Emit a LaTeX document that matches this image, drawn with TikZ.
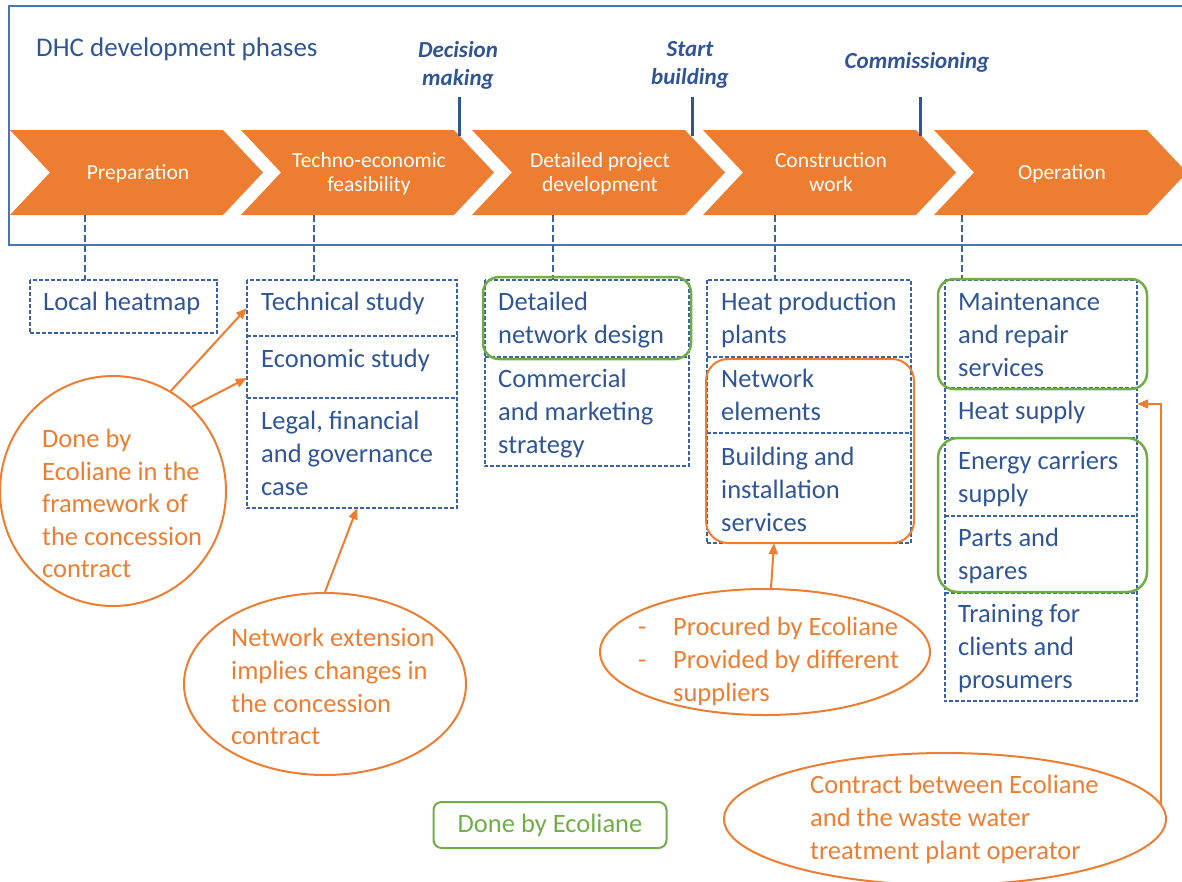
\documentclass[tikz,border=0pt]{standalone}
\usepackage{fontspec}
\setmainfont{Carlito}
\usetikzlibrary{shapes.geometric,arrows.meta,fit,calc}
\definecolor{dhcorange}{HTML}{ED7D31}
\definecolor{dhcblue}{HTML}{2F5597}
\definecolor{dashblue}{HTML}{3A62A8}
\definecolor{frameblue}{HTML}{4A76B0}
\definecolor{dhcgreen}{HTML}{70AD47}
\begin{document}
\begin{tikzpicture}[x=1pt,y=-1pt,
  txt/.style={anchor=north west, inner sep=0pt, align=left, text=dhcblue, yshift=-5pt,
    font=\fontsize{26.5}{33}\selectfont, execute at begin node=\strut},
  oneline/.style={yshift=5pt},
  otxt/.style={txt, text=dhcorange},
  ph/.style={inner sep=0pt, align=center, text=white, font=\fontsize{21.5}{24}\selectfont,
    execute at begin node=\strut, execute at end node=\strut},
  ms/.style={anchor=north, inner sep=0pt, align=center, text=dhcblue,
    font=\fontsize{23}{28}\selectfont\bfseries\itshape, execute at begin node=\strut},
  cellbox/.style={inner sep=0pt},
  dbox/.style={draw=dashblue, line width=1.5pt, dash pattern=on 4pt off 2pt},
  vcon/.style={draw=dashblue, line width=2pt, dash pattern=on 7pt off 3pt},
  tick/.style={draw=dhcblue, line width=3pt},
  gbox/.style={draw=dhcgreen, line width=2.5pt, rounded corners=16pt, inner sep=0pt},
  obox/.style={draw=dhcorange, line width=2pt, rounded corners=22pt, inner sep=0pt},
  oell/.style={ellipse, draw=dhcorange, line width=2pt, inner sep=0pt},
  oarrow/.style={draw=dhcorange, line width=2pt, -{Triangle[length=11pt,width=9pt]}},
  chev/.style={fill=dhcorange}
]
\useasboundingbox (0,0) rectangle (1182,881);

% frame
\draw[frameblue, line width=1.3pt] (1183,6) -- (9,6) -- (9,245) -- (1183,245);
\node[anchor=base west, inner sep=0pt, text=dhcblue, font=\fontsize{27}{33}\selectfont] (title) at (36,56) {DHC development phases};

% chevrons
\foreach \L in {10,241,472,703,934}
  \fill[chev] (\L,130) -- ++(213,0) -- ++(40,42.5) -- ++(-40,42.5) -- ++(-213,0) -- ++(40,-42.5) -- cycle;
\node[ph] (p1) at (138,175) {Preparation};
\node[ph] (p2) at (369,176) {Techno-economic\\feasibility};
\node[ph] (p3) at (600,176) {Detailed project\\development};
\node[ph] (p4) at (831,176) {Construction\\work};
\node[ph] (p5) at (1062,175) {Operation};

% milestones
\node[ms] (m1) at (458,41) {Decision\\making};
\node[ms] (m2) at (690,41) {Start\\building};
\node[ms] (m3) at (917,49) {Commissioning};
\coordinate (t1a) at (459,97); \coordinate (t1b) at (459,136);
\coordinate (t2a) at (692,97); \coordinate (t2b) at (692,136);
\coordinate (t3a) at (920,97); \coordinate (t3b) at (920,136);
\draw[tick] (t1a) -- (t1b);
\draw[tick] (t2a) -- (t2b);
\draw[tick] (t3a) -- (t3b);

% cells
\node[cellbox, fit={(30,280) (217,333)}] (heatmap) {};
\node[cellbox, fit={(247,280) (457,336)}] (tech) {};
\node[cellbox, fit={(247,336) (457,398)}] (econ) {};
\node[cellbox, fit={(247,398) (457,508)}] (legal) {};
\node[cellbox, fit={(485,280) (689,357)}] (dnd) {};
\node[cellbox, fit={(485,357) (689,466)}] (comm) {};
\node[cellbox, fit={(707,280) (911,357)}] (heatp) {};
\node[cellbox, fit={(707,357) (911,433)}] (netel) {};
\node[cellbox, fit={(707,433) (911,543)}] (build) {};
\node[cellbox, fit={(945,280) (1137,388)}] (maint) {};
\node[cellbox, fit={(945,388) (1137,438)}] (heat) {};
\node[cellbox, fit={(945,438) (1137,516)}] (energy) {};
\node[cellbox, fit={(945,516) (1137,593)}] (parts) {};
\node[cellbox, fit={(945,593) (1137,701)}] (training) {};

\draw[dbox] (heatmap.north west) rectangle (heatmap.south east);
\draw[dbox] (tech.north west) rectangle (legal.south east);
\draw[dbox] (econ.north west) -- (econ.north east);
\draw[dbox] (legal.north west) -- (legal.north east);
\draw[dbox] (dnd.north west) rectangle (comm.south east);
\draw[dbox] (comm.north west) -- (comm.north east);
\draw[dbox] (heatp.north west) rectangle (build.south east);
\draw[dbox] (netel.north west) -- (netel.north east);
\draw[dbox] (build.north west) -- (build.north east);
\draw[dbox] (maint.north west) rectangle (training.south east);
\draw[dbox] (heat.north west) -- (heat.north east);
\draw[dbox] (energy.north west) -- (energy.north east);
\draw[dbox] (parts.north west) -- (parts.north east);
\draw[dbox] (training.north west) -- (training.north east);

% vertical connectors
\coordinate (c1) at (85,215);
\coordinate (c2) at (314,215);
\coordinate (c3) at (553,215);
\coordinate (c4) at (775,215);
\coordinate (c5) at (962,215);
\draw[vcon] (c1) -- (c1 |- heatmap.north);
\draw[vcon] (c2) -- (c2 |- tech.north);
\draw[vcon] (c3) -- (c3 |- dnd.north);
\draw[vcon] (c4) -- (c4 |- heatp.north);
\draw[vcon] (c5) -- (c5 |- maint.north);

% cell texts
\node[txt, oneline] (theatmap) at (43,287) {Local heatmap};
\node[txt, oneline] (ttech) at (261,287) {Technical study};
\node[txt, oneline] (tecon) at (261,344) {Economic study};
\node[txt] (tlegal) at (261,406) {Legal, financial\\and governance\\case};
\node[txt] (tdnd) at (498,287) {Detailed\\network design};
\node[txt] (tcomm) at (498,364) {Commercial\\and marketing\\strategy};
\node[txt] (theatp) at (721,287) {Heat production\\plants};
\node[txt] (tnetel) at (721,364) {Network\\elements};
\node[txt] (tbuild) at (721,442) {Building and\\installation\\services};
\node[txt] (tmaint) at (958,287) {Maintenance\\and repair\\services};
\node[txt, oneline] (theat) at (958,396) {Heat supply};
\node[txt] (tenergy) at (958,446) {Energy carriers\\supply};
\node[txt] (tparts) at (958,523) {Parts and\\spares};
\node[txt] (ttraining) at (958,599) {Training for\\clients and\\prosumers};

% groupings
\node[gbox, fit={(483,277) (691,359)}] (g1) {};
\node[gbox, fit={(938,279) (1147,389)}] (g2) {};
\node[gbox, rounded corners=20pt, fit={(938,438) (1147,592)}] (g3) {};
\node[obox, fit={(706,359) (914,543)}] (o1) {};

% orange notes
\node[oell, minimum width=226pt, minimum height=230pt] (done) at (113,491) {};
\node[otxt, font=\fontsize{26.5}{32.5}\selectfont] (tdone) at (42,424) {Done by\\Ecoliane in the\\framework of\\the concession\\contract};
\node[oell, minimum width=282pt, minimum height=182pt] (netx) at (325,684) {};
\node[otxt, font=\fontsize{26.5}{32.7}\selectfont] (tnetx) at (231,623) {Network extension\\implies changes in\\the concession\\contract};
\node[oell, minimum width=330pt, minimum height=126pt] (proc) at (765,652) {};
\node[otxt] (tproc) at (638,612) {\makebox[35pt][l]{-}Procured by Ecoliane\\\makebox[35pt][l]{-}Provided by different\\\hspace*{35pt}suppliers};
\node[oell, minimum width=442pt, minimum height=132pt] (contract) at (945,819) {};
\node[otxt] (tcontract) at (810,770) {Contract between Ecoliane\\and the waste water\\treatment plant operator};

% arrows
\draw[oarrow] (done.60) -- (tech.west);
\draw[oarrow] (done.47) -- ([yshift=-11pt]econ.west);
\draw[oarrow] (netx.north) -- ([xshift=5pt]legal.south);
\draw[oarrow] ([xshift=6pt]proc.north) -- ([xshift=-35pt]build.south);
\draw[oarrow] (contract.4) |- ([yshift=9pt]heat.east);

% legend
\node[draw=dhcgreen, line width=2pt, rounded corners=8pt, minimum width=233pt, minimum height=46pt,
  inner sep=0pt, text=dhcgreen, font=\fontsize{26.5}{33}\selectfont] (legend) at (550,825) {Done by Ecoliane};
\end{tikzpicture}
\end{document}
